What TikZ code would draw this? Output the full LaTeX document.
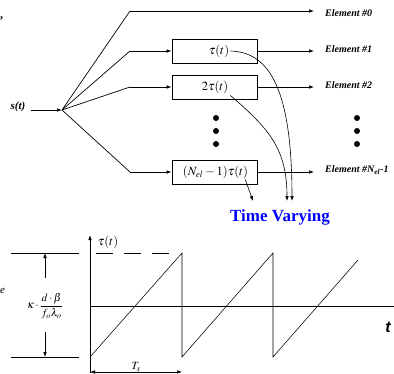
\documentclass[tikz,border=0pt]{standalone}
\usepackage{mathptmx}
\usepackage{fontspec}
\setmainfont{Liberation Serif}
\newfontfamily\sansfnt{Liberation Sans}
\usetikzlibrary{arrows.meta}
\begin{document}
\begin{tikzpicture}[x=1pt,y=-1pt,
  ln/.style={line width=0.7pt},
  arr/.style={line width=0.7pt,-{Latex[length=5pt,width=3.6pt]}},
  thinl/.style={line width=0.55pt},
  axisl/.style={line width=0.8pt},
  blk/.style={draw,line width=0.9pt,minimum width=85pt,minimum height=24pt,inner sep=0pt},
  lbl/.style={font=\fontsize{10}{12}\selectfont\bfseries\itshape,anchor=west,inner sep=0pt},
  mtxt/.style={font=\fontsize{12.5}{14}\selectfont,inner sep=0pt},
  bigdot/.style={circle,fill,inner sep=0pt,minimum size=6pt}]
\useasboundingbox (0,0) rectangle (394,373);

% fragments at the left edge
\node[font=\fontsize{12}{14}\selectfont\bfseries,inner sep=0pt,anchor=west] (frag1) at (0,19) {,};
\node[font=\fontsize{11}{13}\selectfont\itshape,inner sep=0pt,anchor=west] (frag2) at (0,291) {e};

% ---------- top: delay network ----------
\node[font=\fontsize{11}{13}\selectfont\bfseries\itshape,inner sep=0pt] (s) at (18,107) {s(t)};
\coordinate (sin) at (31,110);
\coordinate (hub) at (62,110);
\draw[arr] (sin) -- (hub);

\coordinate (c0) at (130,11);
\coordinate (c1) at (130,51);
\coordinate (c2) at (130,87);
\coordinate (c3) at (130,172);

\node[blk] (b1) at (214.5,51) {};
\node[blk] (b2) at (214.5,87) {};
\node[blk] (b3) at (214.5,172) {};

\node[mtxt] (t1) at (219,51) {$\tau(t)$};
\node[mtxt] (t2) at (215,87) {$2\tau(t)$};
\node[mtxt] (t3) at (215.5,172) {$(N_{el}-1)\tau(t)$};

\node[lbl] (e0) at (325,13) {Element \#0};
\node[lbl] (e1) at (325,49) {Element \#1};
\node[lbl] (e2) at (325,85) {Element \#2};
\node[lbl] (e3) at (325,170) {Element \#N\textsubscript{el}-1};

\coordinate (o0) at (314,11);
\coordinate (o1) at (314,51);
\coordinate (o2) at (314,87);
\coordinate (o3) at (314,172);

\draw[ln] (hub) -- (c0);
\draw[arr] (c0) -- (o0);
\draw[ln] (hub) -- (c1);
\draw[arr] (c1) -- (b1.west);
\draw[ln] (hub) -- (c2);
\draw[arr] (c2) -- (b2.west);
\draw[ln] (hub) -- (c3);
\draw[arr] (c3) -- (b3.west);
\draw[arr] (b1.east) -- (o1);
\draw[arr] (b2.east) -- (o2);
\draw[arr] (b3.east) -- (o3);

\node[bigdot] (d1) at (216,118) {};
\node[bigdot] (d2) at (216,131) {};
\node[bigdot] (d3) at (216,144) {};
\node[bigdot] (d4) at (357,118) {};
\node[bigdot] (d5) at (357,131) {};
\node[bigdot] (d6) at (357,144) {};

\node[font=\fontsize{17}{19}\selectfont\bfseries,text=blue,inner sep=0pt] (tv) at (280,217) {Time Varying};
\coordinate (tv1) at (292,201);
\coordinate (tv2) at (287,201);
\coordinate (tv3) at (253,201);
\draw[arr,line width=0.6pt] ([xshift=1pt]t1.east) .. controls (265,52) and (292,80) .. (tv1);
\draw[arr,line width=0.6pt] ([xshift=2pt,yshift=-2pt]t2.south east) .. controls (268,128) and (287,148) .. (tv2);
\draw[arr,line width=0.6pt] ([xshift=-3pt,yshift=-1pt]t3.south east) -- (tv3);

% ---------- bottom: sawtooth ----------
\coordinate (ybot) at (90,373);
\coordinate (ytop) at (90,235);
\coordinate (xl) at (90,306.7);
\coordinate (xr) at (394,306.7);
\draw[axisl,-{Latex[length=5pt,width=3.6pt]}] (ybot) -- (ytop);
\draw[axisl] (xl) -- (xr);
\node[font=\sansfnt\fontsize{16}{18}\selectfont\bfseries\itshape,inner sep=0pt] (tlab) at (388,327) {t};
\node[mtxt] (taulab) at (108,242) {$\tau(t)$};

\coordinate (s0) at (90,357);
\draw[thinl] (s0) -- (182,253) -- (182,357) -- (273,253) -- (273,357) -- (358,260);
\coordinate (dA) at (96,253);
\coordinate (dB) at (172,253);
\draw[thinl,dash pattern=on 17pt off 11pt] (dA) -- (dB);

\coordinate (h1a) at (11,253);
\coordinate (h1b) at (79,253);
\coordinate (h2a) at (11,357);
\coordinate (h2b) at (79,357);
\draw[thinl] (h1a) -- (h1b);
\draw[thinl] (h2a) -- (h2b);
\node[inner sep=0pt,font=\fontsize{11}{13}\selectfont] (frac) at (45,306) {$\kappa\cdot\displaystyle\frac{d\cdot\beta}{f_o\lambda_o}$};
\coordinate (va) at (45,278);
\coordinate (vb) at (45,253);
\coordinate (vc) at (45,332);
\coordinate (vd) at (45,357);
\draw[arr,line width=0.6pt] (va) -- (vb);
\draw[arr,line width=0.6pt] (vc) -- (vd);

\coordinate (ta) at (90,372);
\coordinate (tb) at (182,372);
\draw[line width=0.6pt,{Latex[length=5pt,width=3.6pt]}-{Latex[length=5pt,width=3.6pt]}] (ta) -- (tb);
\node[fill=white,inner sep=1pt,font=\fontsize{11}{13}\selectfont] (Ts) at (136,367) {$T_s$};
\end{tikzpicture}
\end{document}
